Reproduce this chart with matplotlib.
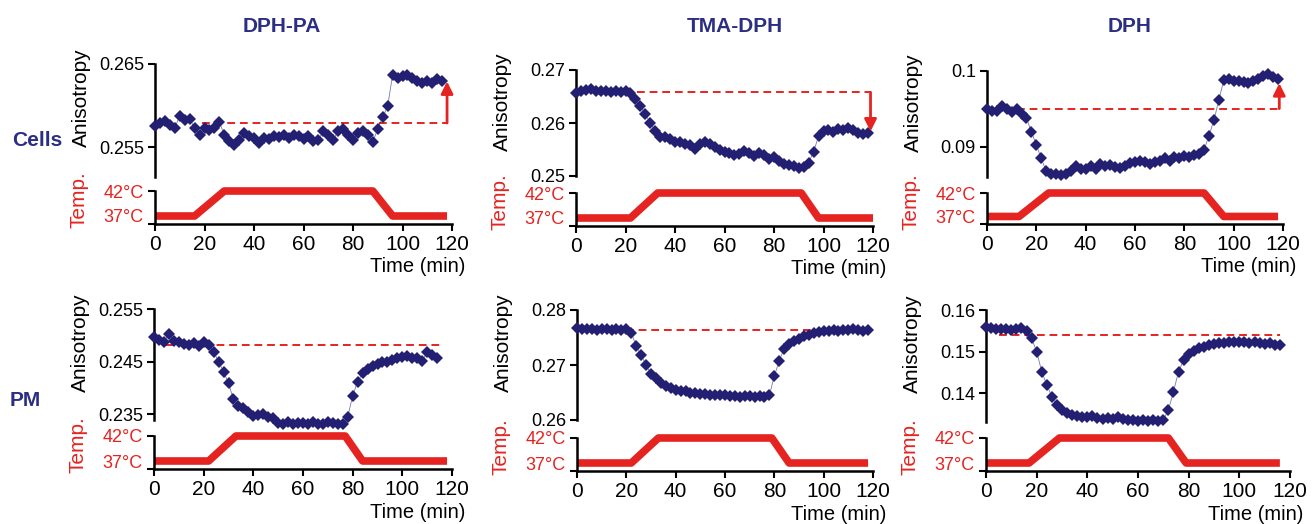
import numpy as np
import matplotlib.pyplot as plt

plt.rcParams['font.family'] = ['Liberation Sans', 'DejaVu Sans']

# anisotropy, one reading every 2 min
dphpa_cells = [0.2575, 0.2579, 0.2581, 0.2577, 0.2573, 0.2588, 0.2583, 0.2584, 0.2573, 0.2565,
               0.2573, 0.2570, 0.2573, 0.2580, 0.2565, 0.2557, 0.2553, 0.2559, 0.2567, 0.2563,
               0.2561, 0.2555, 0.2561, 0.2560, 0.2563, 0.2562, 0.2565, 0.2561, 0.2565, 0.2563,
               0.2560, 0.2563, 0.2557, 0.2559, 0.2569, 0.2565, 0.2559, 0.2569, 0.2572, 0.2565,
               0.2559, 0.2567, 0.2569, 0.2565, 0.2556, 0.2572, 0.2586, 0.2599, 0.2637, 0.2633,
               0.2635, 0.2637, 0.2633, 0.2629, 0.2627, 0.2629, 0.2627, 0.2632, 0.2630]
tma_cells = [0.2657, 0.2660, 0.2663, 0.2665, 0.2661, 0.2660, 0.2660, 0.2659, 0.2661, 0.2659,
             0.2660, 0.2656, 0.2645, 0.2633, 0.2617, 0.2600, 0.2585, 0.2573, 0.2573, 0.2570,
             0.2565, 0.2564, 0.2561, 0.2558, 0.2551, 0.2561, 0.2565, 0.2561, 0.2555, 0.2549,
             0.2546, 0.2543, 0.2540, 0.2542, 0.2548, 0.2543, 0.2537, 0.2543, 0.2540, 0.2532,
             0.2536, 0.2529, 0.2523, 0.2521, 0.2518, 0.2515, 0.2517, 0.2525, 0.2546, 0.2575,
             0.2585, 0.2587, 0.2583, 0.2589, 0.2587, 0.2591, 0.2587, 0.2582, 0.2579, 0.2581]
dph_cells = [0.0950, 0.0948, 0.0948, 0.0954, 0.0950, 0.0946, 0.0950, 0.0944, 0.0938, 0.0920,
             0.0903, 0.0885, 0.0868, 0.0865, 0.0864, 0.0863, 0.0864, 0.0869, 0.0875, 0.0871,
             0.0871, 0.0875, 0.0871, 0.0877, 0.0875, 0.0876, 0.0874, 0.0873, 0.0875, 0.0879,
             0.0880, 0.0882, 0.0880, 0.0878, 0.0880, 0.0882, 0.0885, 0.0882, 0.0887, 0.0885,
             0.0888, 0.0887, 0.0889, 0.0891, 0.0896, 0.0915, 0.0935, 0.0962, 0.0988, 0.0989,
             0.0987, 0.0987, 0.0986, 0.0984, 0.0987, 0.0989, 0.0993, 0.0996, 0.0992, 0.0989]
dphpa_pm = [0.2496, 0.2492, 0.2488, 0.2502, 0.2490, 0.2487, 0.2483, 0.2482, 0.2485, 0.2479,
            0.2487, 0.2482, 0.2469, 0.2450, 0.2431, 0.2409, 0.2378, 0.2366, 0.2361, 0.2355,
            0.2347, 0.2348, 0.2350, 0.2344, 0.2342, 0.2334, 0.2332, 0.2336, 0.2331, 0.2334,
            0.2334, 0.2331, 0.2336, 0.2331, 0.2332, 0.2336, 0.2334, 0.2331, 0.2331, 0.2345,
            0.2385, 0.2412, 0.2428, 0.2436, 0.2441, 0.2445, 0.2449, 0.2450, 0.2453, 0.2456,
            0.2459, 0.2461, 0.2456, 0.2457, 0.2451, 0.2469, 0.2463, 0.2456]
tma_pm = [0.2767, 0.2765, 0.2766, 0.2765, 0.2764, 0.2765, 0.2765, 0.2764, 0.2765, 0.2764,
          0.2765, 0.2758, 0.2735, 0.2718, 0.2700, 0.2683, 0.2676, 0.2668, 0.2662, 0.2658,
          0.2655, 0.2653, 0.2652, 0.2650, 0.2649, 0.2647, 0.2647, 0.2646, 0.2646, 0.2646,
          0.2645, 0.2644, 0.2643, 0.2642, 0.2643, 0.2644, 0.2642, 0.2643, 0.2642, 0.2645,
          0.2680, 0.2708, 0.2730, 0.2739, 0.2744, 0.2748, 0.2752, 0.2755, 0.2758, 0.2760,
          0.2761, 0.2762, 0.2764, 0.2762, 0.2764, 0.2764, 0.2765, 0.2764, 0.2762, 0.2764]
dph_pm = [0.1560, 0.1556, 0.1554, 0.1554, 0.1554, 0.1552, 0.1554, 0.1556, 0.1550, 0.1532,
          0.1500, 0.1452, 0.1420, 0.1392, 0.1372, 0.1360, 0.1352, 0.1348, 0.1346, 0.1344,
          0.1342, 0.1346, 0.1340, 0.1338, 0.1340, 0.1338, 0.1342, 0.1338, 0.1336, 0.1336,
          0.1334, 0.1336, 0.1334, 0.1336, 0.1334, 0.1336, 0.1360, 0.1404, 0.1452, 0.1480,
          0.1494, 0.1502, 0.1508, 0.1512, 0.1515, 0.1518, 0.1520, 0.1521, 0.1522, 0.1524,
          0.1522, 0.1524, 0.1521, 0.1522, 0.1521, 0.1518, 0.1521, 0.1517, 0.1516]

series = [dphpa_cells, tma_cells, dph_cells, dphpa_pm, tma_pm, dph_pm]
titles = ['DPH-PA', 'TMA-DPH', 'DPH']
rows = ['Cells', 'PM']

# y ticks of each anisotropy panel
yticks = [[0.255, 0.265], [0.25, 0.26, 0.27], [0.09, 0.1],
          [0.235, 0.245, 0.255], [0.26, 0.27, 0.28], [0.14, 0.15, 0.16]]
ylabels = [['0.255', '0.265'], ['0.25', '0.26', '0.27'], ['0.09', '0.1'],
           ['0.235', '0.245', '0.255'], ['0.26', '0.27', '0.28'], ['0.14', '0.15', '0.16']]
ylims = [(0.2514, 0.265), (0.25, 0.27), (0.08605, 0.1),
         (0.2339, 0.255), (0.26, 0.28), (0.1331, 0.16)]

# starting level (dashed) and end point (arrow)
base_level = [0.2579, 0.2658, 0.09505, 0.2482, 0.2764, 0.1540]
base_start = [19, 24.5, 12, 5, 20, 5]
base_end = [118, 119, 118.5, 116.5, 118, 116]
arrow_tip = [0.2629, 0.2584, 0.0984, None, None, None]

# temperature programme
temp_levels = [37, 37, 42, 42, 37, 37]
temp_times = [[0, 16, 28, 88, 96, 118],
              [0, 22, 33, 91, 98, 120],
              [0, 13, 25, 88, 96, 118],
              [0, 22, 33, 77, 84, 118],
              [0, 22, 33, 79, 86, 118],
              [0, 17, 29, 72, 79, 116]]

# panel boxes in pixels: x0, x1, aniso top, aniso bottom, temp top, temp bottom
boxes = [(155, 452, 64, 177, 191, 224),
         (576, 873, 70, 176, 193, 226),
         (987, 1283, 71, 177, 193, 224),
         (154, 452, 309, 420, 436, 469),
         (577, 873, 310, 420, 438, 471),
         (986, 1290, 310, 422, 438, 471)]

W, H = 1313, 524
navy = '#231f73'
title_col = '#2b2e83'
red = '#e52421'

fig = plt.figure(figsize=(W / 100, H / 100), dpi=100)


def rect(x0, x1, top, bot):
    return [x0 / W, 1 - bot / H, (x1 - x0) / W, (bot - top) / H]


for i in range(6):
    x0, x1, atop, abot, ttop, tbot = boxes[i]
    vals = series[i]
    t = np.arange(len(vals)) * 2

    ax = fig.add_axes(rect(x0, x1, atop, abot))
    ax.set_xlim(0, 120)
    ax.set_ylim(*ylims[i])
    for s in ['top', 'right', 'bottom']:
        ax.spines[s].set_visible(False)
    ax.spines['left'].set_linewidth(1.8)
    ax.set_xticks([])
    ax.set_yticks(yticks[i])
    ax.set_yticklabels(ylabels[i])
    ax.tick_params(axis='y', labelsize=13, length=5, width=1.5, pad=3)
    ax.patch.set_alpha(0)

    ax.plot([base_start[i], base_end[i]], [base_level[i]] * 2, '--', color=red,
            lw=1.4, dashes=(4, 2.5), zorder=1, clip_on=False)
    ax.plot(t, vals, '-', color=navy, lw=0.6, alpha=0.6, zorder=2, clip_on=False)
    ax.plot(t, vals, 'D', color=navy, ms=6.5, mew=0, zorder=3, clip_on=False)
    if arrow_tip[i] is not None:
        ax.annotate('', xy=(base_end[i], arrow_tip[i]), xytext=(base_end[i], base_level[i]),
                    arrowprops=dict(arrowstyle='-|>', color=red, lw=2, mutation_scale=18,
                                    shrinkA=0, shrinkB=0), annotation_clip=False)
    ax.annotate('Anisotropy', xy=(0, 0.70), xycoords='axes fraction', xytext=(-74, 0),
                textcoords='offset pixels', rotation=90, ha='center', va='center', fontsize=15)

    tx = fig.add_axes(rect(x0, x1, ttop, tbot))
    tx.set_xlim(0, 120)
    tx.set_ylim(35.4, 42)
    for s in ['top', 'right']:
        tx.spines[s].set_visible(False)
    tx.spines['left'].set_linewidth(1.8)
    tx.spines['bottom'].set_linewidth(1.8)
    tx.set_xticks(range(0, 121, 20))
    tx.set_yticks([35.4, 37, 42])
    tx.set_yticklabels(['', '37°C', '42°C'])
    tx.yaxis.get_major_ticks()[1].tick1line.set_visible(False)
    tx.tick_params(axis='y', labelsize=13, labelcolor=red, length=5, width=1.5, pad=3)
    tx.tick_params(axis='x', labelsize=15, length=5, width=1.5, pad=3)
    tx.patch.set_alpha(0)
    tx.plot(temp_times[i], temp_levels, color=red, lw=5.5, solid_capstyle='butt',
            clip_on=False)
    tx.annotate('Temp.', xy=(0, 0.73), xycoords='axes fraction', xytext=(-76, 0),
                textcoords='offset pixels', rotation=90, ha='center', va='center',
                fontsize=15, color=red)
    tx.annotate('Time (min)', xy=(1, 0), xycoords='axes fraction', xytext=(13, -43),
                textcoords='offset pixels', ha='right', va='center', fontsize=14.5)

for x, name in zip([282, 735, 1130], titles):
    fig.text(x / W, 1 - 26 / H, name, ha='center', va='center', fontsize=15,
             fontweight='bold', color=title_col)
for (x, y), name in zip([(37, 141), (25, 401)], rows):
    fig.text(x / W, 1 - y / H, name, ha='center', va='center', fontsize=15,
             fontweight='bold', color=title_col)

fig.savefig('out.png', dpi=100)
